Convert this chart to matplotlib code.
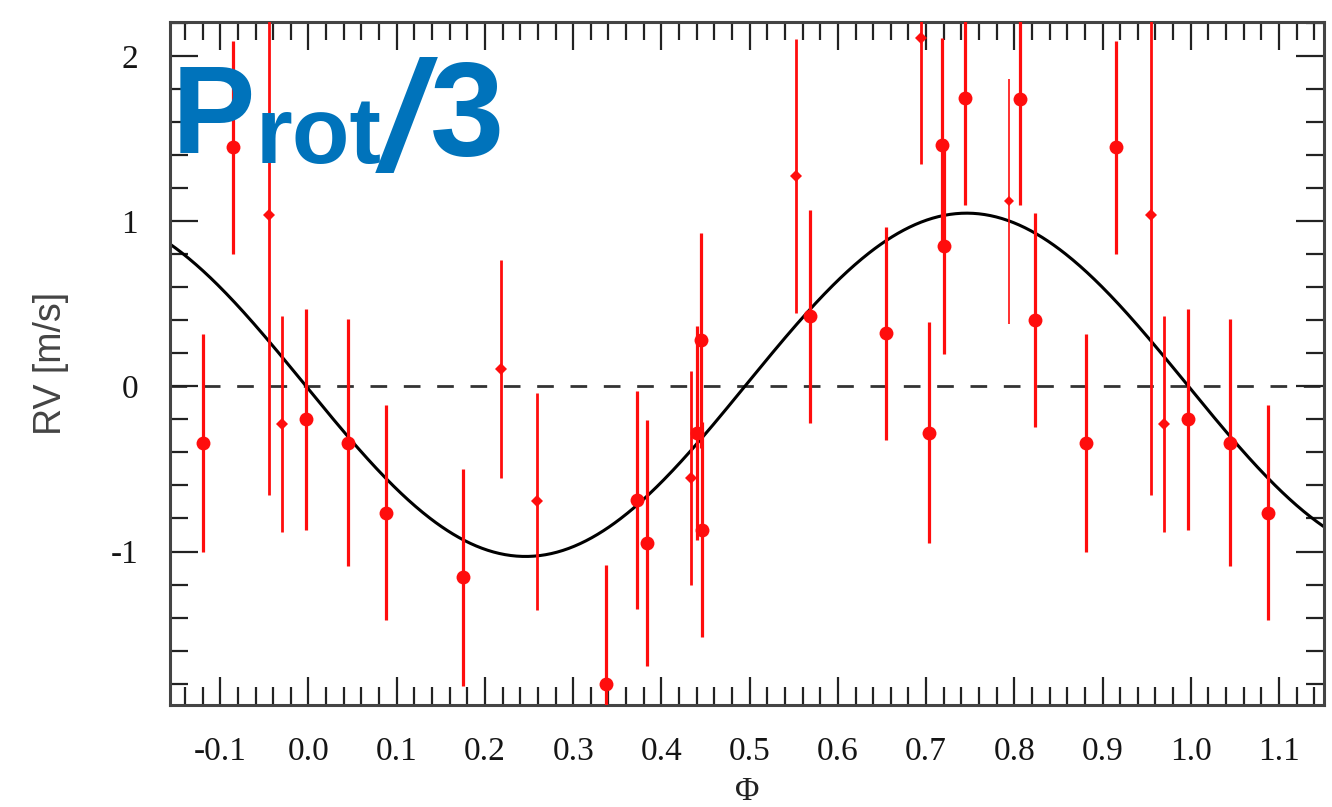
import numpy as np
import matplotlib

matplotlib.use("Agg")
import matplotlib.pyplot as plt
from matplotlib.ticker import FuncFormatter, MultipleLocator

# phase-folded RV data (phase in [0, 1)); points are repeated at phase +/- 1
PHASE = [0.045, 0.088, 0.175, 0.218, 0.259, 0.3375, 0.372, 0.384, 0.434, 0.440,
         0.445, 0.446, 0.553, 0.5685, 0.654, 0.694, 0.703, 0.718, 0.720, 0.744,
         0.794, 0.806, 0.824, 0.881, 0.915, 0.955, 0.970, 0.997]
RV = [-0.34, -0.765, -1.157, 0.107, -0.697, -1.80, -0.687, -0.949, -0.555, -0.282,
      0.279, -0.868, 1.273, 0.424, 0.323, 2.11, -0.279, 1.465, 0.848, 1.748,
      1.121, 1.742, 0.404, -0.34, 1.45, 1.04, -0.226, -0.20]
RV_ERR = [0.75, 0.65, 0.655, 0.66, 0.66, 0.72, 0.66, 0.745, 0.65, 0.65,
          0.65, 0.65, 0.83, 0.645, 0.645, 0.76, 0.67, 0.645, 0.65, 0.65,
          0.74, 0.64, 0.65, 0.66, 0.645, 1.70, 0.655, 0.67]
# point weight class: "h" high, "l" low, "v" very low
WEIGHT = ["h", "h", "h", "l", "l", "h", "h", "h", "l", "h",
          "h", "h", "l", "h", "h", "l", "h", "h", "h", "h",
          "v", "h", "h", "h", "h", "l", "l", "h"]

# sinusoidal model at Prot/3
K_AMP = 1.04
PHI0 = 0.004
RV_OFFSET = 0.01

XLIM = (-0.157, 1.151)
YLIM = (-1.93, 2.21)

RED = "#ff0d0d"
BLUE = "#0073bb"
STYLE = {
    "h": dict(marker="o", ms=10, lw=2.3),
    "l": dict(marker="D", ms=6, lw=2.0),
    "v": dict(marker="D", ms=5, lw=1.2),
}


def configure_style() -> None:
    plt.rcParams.update(
        {
            "font.family": ["Liberation Serif", "DejaVu Serif"],
            "axes.unicode_minus": False,
            "axes.linewidth": 2.2,
            "axes.edgecolor": "#444444",
        }
    )


def main() -> None:
    configure_style()
    fig = plt.figure(figsize=(13.32, 8.07), dpi=100)
    ax = fig.add_axes([0.1276, 0.1264, 0.8664, 0.8467])

    ax.axhline(0, color="#333333", lw=2.0, dashes=(6, 6), zorder=1)

    grid = np.linspace(XLIM[0], XLIM[1], 800)
    model = -K_AMP * np.sin(2 * np.pi * (grid + PHI0)) + RV_OFFSET
    ax.plot(grid, model, color="black", lw=2.2, zorder=2)

    for ph, rv, err, w in zip(PHASE, RV, RV_ERR, WEIGHT):
        st = STYLE[w]
        for shift in (-1, 0, 1):
            x = ph + shift
            if x < XLIM[0] or x > XLIM[1]:
                continue
            ax.errorbar(x, rv, yerr=err, fmt=st["marker"], ms=st["ms"], color=RED,
                        ecolor=RED, elinewidth=st["lw"], mew=0, capsize=0, zorder=3)

    ax.set_xlim(*XLIM)
    ax.set_ylim(*YLIM)
    ax.xaxis.set_major_locator(MultipleLocator(0.1))
    ax.xaxis.set_minor_locator(MultipleLocator(0.02))
    ax.yaxis.set_major_locator(MultipleLocator(1))
    ax.yaxis.set_minor_locator(MultipleLocator(0.2))
    ax.xaxis.set_major_formatter(FuncFormatter(lambda v, _: f"{round(v, 1) + 0.0:.1f}"))
    ax.yaxis.set_major_formatter(FuncFormatter(lambda v, _: f"{int(round(v))}"))
    ax.tick_params(which="both", direction="in", top=True, right=True,
                   width=1.6, color="#222222", labelsize=24, labelcolor="#151515", pad=23)
    ax.tick_params(which="major", length=20)
    ax.tick_params(which="minor", length=13)

    ax.set_xlabel("Φ", fontsize=24, color="#222222")
    ax.xaxis.set_label_coords(0.5, -0.104)
    ax.set_ylabel("RV [m/s]", fontsize=27, color="#444444",
                  family=["Liberation Sans", "DejaVu Sans"])
    ax.yaxis.set_label_coords(-0.0875, 0.5)

    title_font = dict(color=BLUE, fontweight="bold", family=["Liberation Sans", "DejaVu Sans"],
                      va="baseline", ha="left", transform=fig.transFigure, zorder=5)
    fig.text(0.1291, 0.8104, "P", fontsize=90, **title_font)
    fig.text(0.1922, 0.7980, "rot", fontsize=68, **title_font)
    fig.text(0.2855, 0.7893, "/", fontsize=112, style="italic", **title_font)
    fig.text(0.3225, 0.8073, "3", fontsize=96, **title_font)

    fig.savefig("out.png", dpi=100)
    plt.close(fig)


if __name__ == "__main__":
    main()
